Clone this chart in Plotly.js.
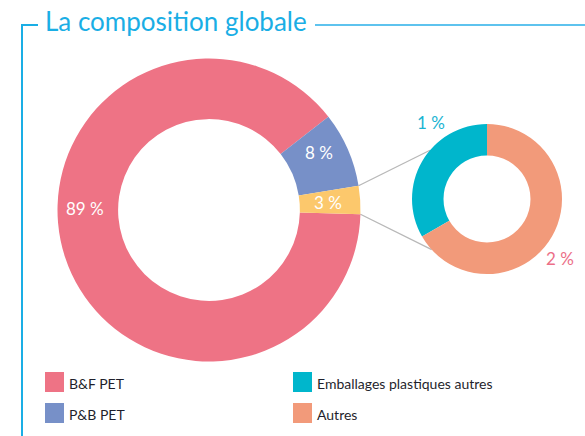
<!DOCTYPE html>
<html>
<head>
<meta charset="utf-8">
<script src="https://cdn.plot.ly/plotly-3.0.1.min.js"></script>
<style>html,body{margin:0;padding:0;background:#fff;}#chart{width:585px;height:436px;}</style>
</head>
<body>
<div id="chart"></div>
<script>
// ---- data ----
const mainLabels = ['B&F PET', 'P&B PET', 'Autres emballages'];
const mainValues = [89, 8, 3];
const mainColors = ['#ee7385', '#7790c8', '#fcc86c'];
const subLabels = ['Emballages plastiques autres', 'Autres'];
const subValues = [1, 2];
const subColors = ['#00b6cc', '#f29a7a'];
const legendLabels = ['B&F PET', 'P&B PET', 'Emballages plastiques autres', 'Autres'];
const legendColors = ['#ee7385', '#7790c8', '#00b6cc', '#f29a7a'];
const titleText = 'La composition globale';

// ---- layout helpers (pixel -> paper) ----
const W = 585, H = 436;
const px = x => x / W;
const py = y => 1 - y / H;
const FONT = 'Lato, "Open Sans", sans-serif';

// donut geometry
const big = {cx: 209, cy: 210, r: 151.5, hole: 0.6, rotation: 91.6};
const small = {cx: 487, cy: 199, r: 75, hole: 0.58, rotation: 240};
function domainOf(g) {
  return {x: [px(g.cx - g.r), px(g.cx + g.r)], y: [py(g.cy + g.r), py(g.cy - g.r)]};
}

const traces = [
  {
    type: 'pie', labels: mainLabels, values: mainValues, sort: false,
    direction: 'clockwise', rotation: big.rotation, hole: big.hole,
    marker: {colors: mainColors, line: {width: 0}},
    textinfo: 'none', hoverinfo: 'label+value', showlegend: false,
    domain: domainOf(big)
  },
  {
    type: 'pie', labels: subLabels, values: subValues, sort: false,
    direction: 'clockwise', rotation: small.rotation, hole: small.hole,
    marker: {colors: subColors, line: {width: 0}},
    textinfo: 'none', hoverinfo: 'label+value', showlegend: false,
    domain: domainOf(small)
  }
];

// connector lines from the last slice edges to the small donut
const total = mainValues.reduce((a, b) => a + b, 0);
const lastFrac = mainValues[mainValues.length - 1] / total;
const aEnd = big.rotation;
const aStart = big.rotation - lastFrac * 360;
function onCircle(g, deg) {
  const t = deg * Math.PI / 180;
  return [g.cx + g.r * Math.sin(t), g.cy - g.r * Math.cos(t)];
}
const p1 = onCircle(big, aStart), q1 = onCircle(small, 310.5);
const p2 = onCircle(big, aEnd), q2 = onCircle(small, 227.5);

const shapes = [
  {type: 'line', xref: 'paper', yref: 'paper', x0: px(p1[0]), y0: py(p1[1]), x1: px(q1[0]), y1: py(q1[1]), line: {color: '#b8b8b8', width: 1.3}, layer: 'below'},
  {type: 'line', xref: 'paper', yref: 'paper', x0: px(p2[0]), y0: py(p2[1]), x1: px(q2[0]), y1: py(q2[1]), line: {color: '#b8b8b8', width: 1.3}, layer: 'below'},
  // frame lines around the title
  {type: 'line', xref: 'paper', yref: 'paper', x0: px(22), y0: py(25), x1: px(22), y1: py(440), line: {color: '#1aaee5', width: 2}},
  {type: 'line', xref: 'paper', yref: 'paper', x0: px(21), y0: py(25), x1: px(38), y1: py(25), line: {color: '#1aaee5', width: 2}},
  {type: 'line', xref: 'paper', yref: 'paper', x0: px(315), y0: py(25), x1: px(590), y1: py(25), line: {color: '#5ec3ee', width: 2}}
];

// legend squares
const legPos = [[45, 382], [45, 413], [293, 382], [293, 413]];
legendLabels.forEach((lab, i) => {
  const [x, y] = legPos[i];
  shapes.push({type: 'rect', xref: 'paper', yref: 'paper',
    x0: px(x), x1: px(x + 19), y0: py(y + 10), y1: py(y - 10),
    fillcolor: legendColors[i], line: {width: 0}});
});

const annotations = [];
legendLabels.forEach((lab, i) => {
  const [x, y] = legPos[i];
  annotations.push({xref: 'paper', yref: 'paper', x: px(x + 22), y: py(y + 1.5), xanchor: 'left', yanchor: 'middle',
    text: lab, showarrow: false, font: {family: FONT, size: 14, color: '#1f1f2c'}});
});

// value labels
const bigLabelPos = [[85, 208], [319, 152], [328, 202]];
mainValues.forEach((v, i) => {
  annotations.push({xref: 'paper', yref: 'paper', x: px(bigLabelPos[i][0]), y: py(bigLabelPos[i][1]),
    xanchor: 'center', yanchor: 'middle', text: v + ' %', showarrow: false,
    font: {family: FONT, size: 17, color: '#ffffff'}});
});
const subLabelPos = [[431, 122], [560, 258]];
const subLabelColors = ['#1ab4d2', '#ec6f88'];
subValues.forEach((v, i) => {
  annotations.push({xref: 'paper', yref: 'paper', x: px(subLabelPos[i][0]), y: py(subLabelPos[i][1]),
    xanchor: 'center', yanchor: 'middle', text: v + ' %', showarrow: false,
    font: {family: FONT, size: 17, color: subLabelColors[i]}});
});

const layout = {
  width: W, height: H,
  margin: {l: 0, r: 0, t: 0, b: 0},
  paper_bgcolor: '#ffffff', plot_bgcolor: '#ffffff',
  title: {text: titleText, x: px(45), xanchor: 'left', xref: 'paper', y: py(22), yanchor: 'middle', yref: 'container',
    font: {family: FONT, size: 26, color: '#1aaee5'}},
  showlegend: false,
  shapes: shapes,
  annotations: annotations
};

Plotly.newPlot('chart', traces, layout, {displayModeBar: false, staticPlot: true});
</script>
</body>
</html>
